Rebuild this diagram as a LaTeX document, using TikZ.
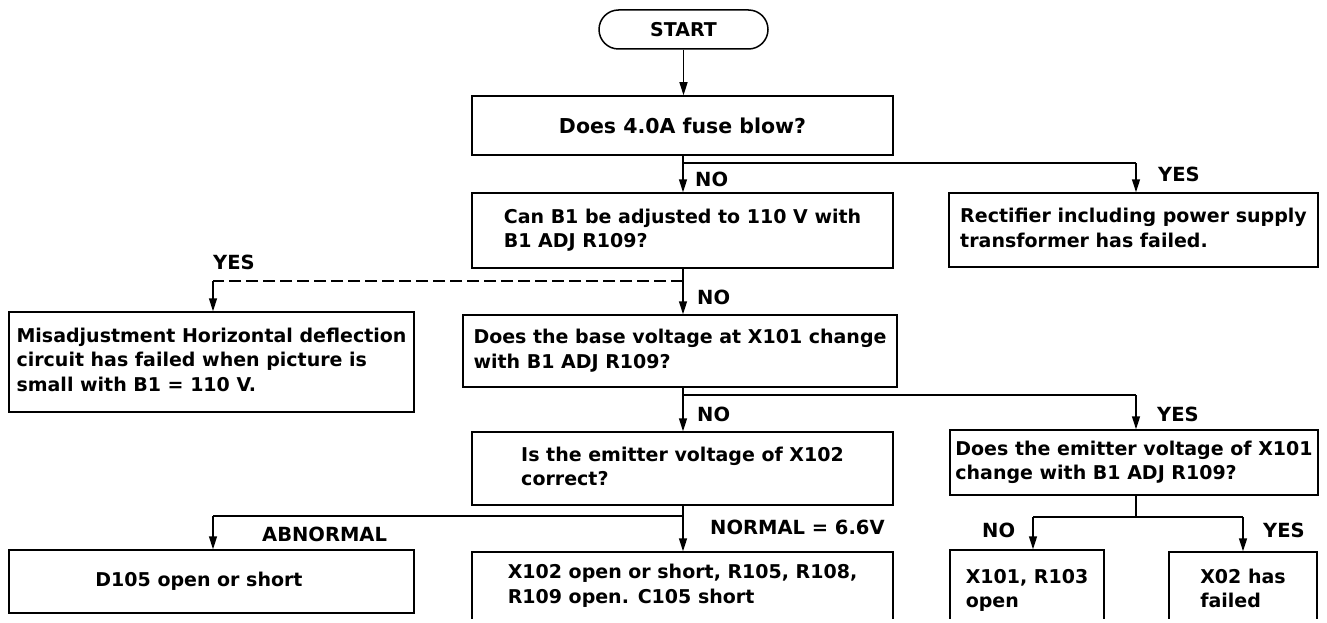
\documentclass[tikz,border=0pt]{standalone}
\usepackage{fontspec}
\setmainfont{DejaVu Sans}
\usetikzlibrary{arrows.meta}
\tikzset{
  box/.style={draw, line width=1.5pt, align=center, inner sep=0pt,
    font=\bfseries\fontsize{19}{24.5}\selectfont},
  bigbox/.style={box, font=\bfseries\fontsize{20.5}{25}\selectfont},
  term/.style={box, rounded corners=19.5pt},
  lab/.style={inner sep=0pt, anchor=west, font=\bfseries\fontsize{19.5}{24}\selectfont},
  arr/.style={line width=1.5pt, -{Triangle[length=13pt,width=8pt]}},
  conn/.style={line width=1.5pt},
  dashconn/.style={line width=1.5pt, dash pattern=on 12pt off 5pt}
}
\begin{document}
\begin{tikzpicture}[x=1pt,y=-1pt]
\useasboundingbox (0,0) rectangle (1327,623);
\clip (0,0) rectangle (1327,618.5);
% nodes
\node[term, minimum width=169pt, minimum height=39pt] (start) at (683.5,29.5) {START};
\node[bigbox, minimum width=421pt, minimum height=59pt] (b1) at (682.5,125.5) {Does 4.0A fuse blow?};
\node[box, minimum width=421pt, minimum height=75pt] (b2) at (682.5,230.5) {\begin{tabular}{@{}l@{}}Can B1 be adjusted to 110 V with\\B1 ADJ R109?\end{tabular}};
\node[box, minimum width=369pt, minimum height=74pt] (b3) at (1133.5,230) {\begin{tabular}{@{}l@{}}Rectifier including power supply\\transformer has failed.\end{tabular}};
\node[box, minimum width=405pt, minimum height=100pt] (b4) at (211.5,362) {\begin{tabular}{@{}l@{}}Misadjustment Horizontal deflection\\circuit has failed when picture is\\small with B1 = 110 V.\end{tabular}};
\node[box, minimum width=434pt, minimum height=72pt] (b5) at (680,351) {\begin{tabular}{@{}l@{}}Does the base voltage at X101 change\\with B1 ADJ R109?\end{tabular}};
\node[box, minimum width=421pt, minimum height=73pt] (b6) at (682.5,468.5) {\begin{tabular}{@{}l@{}}Is the emitter voltage of X102\\correct?\end{tabular}};
\node[box, minimum width=368pt, minimum height=65pt] (b7) at (1134,462.5) {\begin{tabular}{@{}l@{}}Does the emitter voltage of X101\\change with B1 ADJ R109?\end{tabular}};
\node[box, minimum width=405pt, minimum height=63pt] (b8) at (211.5,581.5) {\hspace*{-25pt}D105 open or short};
\node[box, minimum width=421pt, minimum height=68pt] (b9) at (682.5,586) {\begin{tabular}{@{}l@{}}X102 open or short, R105, R108,\\R109 open. C105 short\end{tabular}};
\node[box, minimum width=154pt, minimum height=81pt] (b10) at (1027,590.5) {\begin{tabular}{@{}l@{}}X101, R103\\open\end{tabular}};
\node[box, minimum width=148pt, minimum height=77pt] (b11) at (1243,590.5) {\begin{tabular}{@{}l@{}}X02 has\\failed\end{tabular}};
% junctions
\coordinate (j1) at (683,163);
\coordinate (j2) at (683,281);
\coordinate (j3) at (683,395);
\coordinate (j4) at (683,516);
\coordinate (jl) at (1033,517);
\coordinate (jr) at (1243,517);
\coordinate (yesB) at (1136,163);
\coordinate (yesE) at (1136,395);
\coordinate (yesD) at (213,281);
\coordinate (abn) at (213,516);
% connectors
\draw[arr] (start.south) -- (start.south |- b1.north);
\draw[arr] (j1 |- b1.south) -- (j1 |- b2.north);
\draw[conn] (j1) -- (yesB);
\draw[arr] (yesB) -- (yesB |- b3.north);
\draw[arr] (j2 |- b2.south) -- (j2 |- b5.north);
\draw[dashconn] (j2) -- (yesD);
\draw[arr] (yesD) -- (yesD |- b4.north);
\draw[arr] (j3 |- b5.south) -- (j3 |- b6.north);
\draw[conn] (j3) -- (yesE);
\draw[arr] (yesE) -- (yesE |- b7.north);
\draw[arr] (j4 |- b6.south) -- (j4 |- b9.north);
\draw[conn] (j4) -- (abn);
\draw[arr] (abn) -- (abn |- b8.north);
\draw[conn] (yesE |- b7.south) -- (yesE |- jl);
\draw[conn] (jl) -- (jr);
\draw[arr] (jl) -- (jl |- b10.north);
\draw[arr] (jr) -- (jr |- b11.north);
% labels
\node[lab] (l1) at (695,179.5) {NO};
\node[lab] (l2) at (1158,174.5) {YES};
\node[lab] (l3) at (213,262.5) {YES};
\node[lab] (l4) at (697,297.5) {NO};
\node[lab] (l5) at (697,414.5) {NO};
\node[lab] (l6) at (1157,414.5) {YES};
\node[lab] (l7) at (262,534) {ABNORMAL};
\node[lab] (l8) at (710,527.5) {NORMAL = 6.6V};
\node[lab] (l9) at (982,530.5) {NO};
\node[lab] (l10) at (1263,530.5) {YES};
\end{tikzpicture}
\end{document}
